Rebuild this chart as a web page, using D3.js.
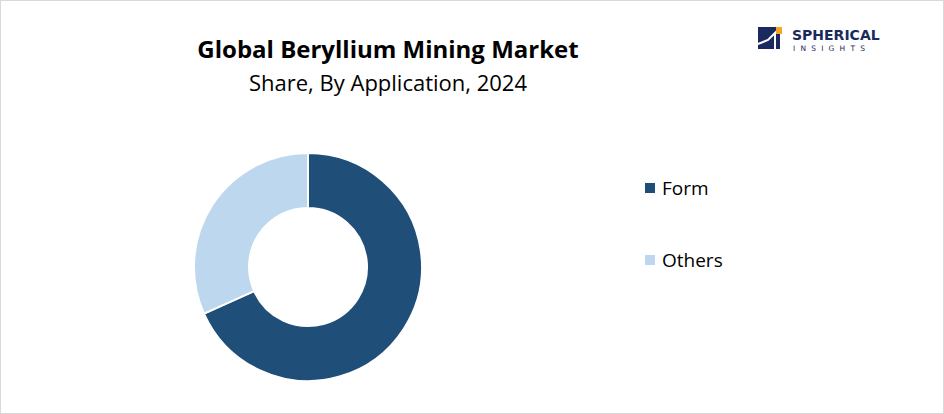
<!DOCTYPE html>
<html><head><meta charset="utf-8">
<script src="https://cdn.jsdelivr.net/npm/d3@7"></script>
<style>body{margin:0;background:#fff}svg{display:block}</style>
</head><body>
<svg width="944" height="414"></svg>
<script>
var categories = ["Form", "Others"];
var shares = [68.3, 31.7];
var colors = ["#1f4e79", "#bdd7ee"];

var svg = d3.select("svg");
svg.append("rect").attr("x", 0.5).attr("y", 0.5).attr("width", 943).attr("height", 413)
    .attr("fill", "#fff").attr("stroke", "#d9d9d9");

svg.append("text").attr("x", 388).attr("y", 58).attr("text-anchor", "middle")
    .attr("font-family", "Open Sans, sans-serif").attr("font-weight", "bold").attr("font-size", 24)
    .attr("fill", "#000").text("Global Beryllium Mining Market");
svg.append("text").attr("x", 388).attr("y", 91).attr("text-anchor", "middle")
    .attr("font-family", "Open Sans, sans-serif").attr("font-size", 22)
    .attr("fill", "#000").text("Share, By Application, 2024");

// logo
var logo = svg.append("g").attr("transform", "translate(758,27)");
logo.append("rect").attr("width", 22).attr("height", 22).attr("fill", "#1a2a5e");
logo.append("rect").attr("x", 18).attr("y", 0).attr("width", 6).attr("height", 7).attr("fill", "#f5a623");
logo.append("path").attr("d", "M0,17 L10,13 L17,6 L17,22").attr("fill", "none").attr("stroke", "#fff").attr("stroke-width", 2);
logo.append("text").attr("x", 34).attr("y", 13).attr("font-family", "DejaVu Sans, sans-serif")
    .attr("font-weight", "bold").attr("font-size", 14).attr("fill", "#1a2a5e").text("SPHERICAL");
logo.append("text").attr("x", 35).attr("y", 24).attr("font-family", "DejaVu Sans, sans-serif")
    .attr("font-size", 7.5).attr("letter-spacing", 5.2).attr("fill", "#1a2a5e").text("INSIGHTS");

var pie = d3.pie().sort(null).value(function(d){ return d; });
var arc = d3.arc().innerRadius(59).outerRadius(114);
var g = svg.append("g").attr("transform", "translate(308,267)");
g.selectAll("path").data(pie(shares)).enter().append("path")
    .attr("d", arc).attr("fill", function(d, i){ return colors[i]; })
    .attr("stroke", "#fff").attr("stroke-width", 2);

var leg = svg.selectAll(".leg").data(categories).enter().append("g")
    .attr("transform", function(d, i){ return "translate(645," + (188 + i * 72) + ")"; });
leg.append("rect").attr("x", 0).attr("y", -5).attr("width", 10).attr("height", 10)
    .attr("fill", function(d, i){ return colors[i]; });
leg.append("text").attr("x", 17).attr("y", 7).attr("font-family", "Open Sans, sans-serif")
    .attr("font-size", 19).attr("fill", "#000").text(function(d){ return d; });
</script>
</body></html>
